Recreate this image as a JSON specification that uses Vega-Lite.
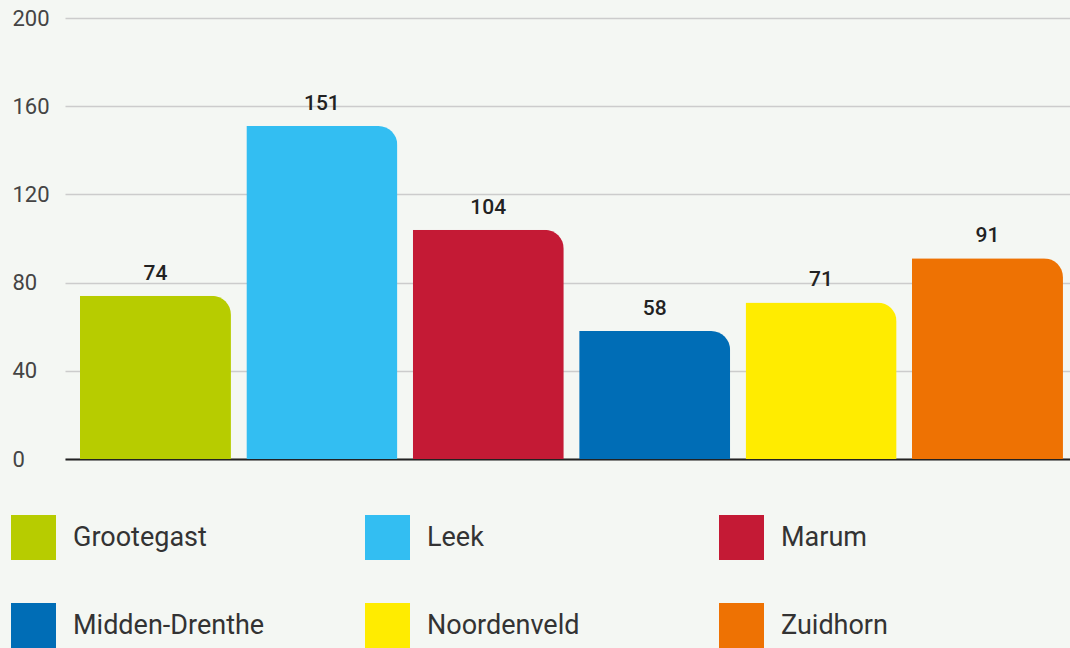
{
  "$schema": "https://vega.github.io/schema/vega-lite/v6.json",
  "width": 1005,
  "height": 441,
  "autosize": {"type": "none"},
  "padding": {"left": 65, "top": 18, "right": 0, "bottom": 189},
  "background": "#f4f7f3",
  "config": {
    "view": {"stroke": null},
    "font": "Roboto"
  },
  "data": {
    "values": [
      {"gemeente": "Grootegast", "waarde": 74},
      {"gemeente": "Leek", "waarde": 151},
      {"gemeente": "Marum", "waarde": 104},
      {"gemeente": "Midden-Drenthe", "waarde": 58},
      {"gemeente": "Noordenveld", "waarde": 71},
      {"gemeente": "Zuidhorn", "waarde": 91}
    ]
  },
  "encoding": {
    "x": {
      "field": "gemeente",
      "type": "nominal",
      "sort": null,
      "scale": {"paddingInner": 0.0925, "paddingOuter": 0.066, "align": 0.68},
      "axis": {
        "title": null,
        "labels": false,
        "ticks": false,
        "tickSize": 0,
        "domain": true,
        "domainColor": "#222222",
        "domainWidth": 2,
        "grid": false
      }
    },
    "y": {
      "field": "waarde",
      "type": "quantitative",
      "scale": {"domain": [0, 200], "nice": false},
      "axis": {
        "title": null,
        "values": [0, 40, 80, 120, 160, 200],
        "ticks": false,
        "tickSize": 0,
        "domain": false,
        "grid": true,
        "gridColor": "#cccccc",
        "gridWidth": 1.5,
        "labelAlign": "left",
        "labelBaseline": "middle",
        "labelPadding": 53,
        "labelFontSize": 22,
        "labelColor": "#444444",
        "labelFont": "Roboto"
      }
    }
  },
  "layer": [
    {
      "mark": {"type": "bar", "cornerRadiusTopRight": 19},
      "encoding": {
        "color": {
          "field": "gemeente",
          "type": "nominal",
          "scale": {
            "domain": ["Grootegast", "Leek", "Marum", "Midden-Drenthe", "Noordenveld", "Zuidhorn"],
            "range": ["#b7cc00", "#33bef2", "#c41a35", "#006db6", "#ffec00", "#ee7203"]
          },
          "legend": {
            "title": null,
            "orient": "none",
            "direction": "horizontal",
            "legendX": -54,
            "legendY": 497,
            "columns": 3,
            "gridAlign": "all",
            "columnPadding": 100,
            "rowPadding": 43,
            "padding": 0,
            "symbolType": "square",
            "symbolSize": 2025,
            "symbolStrokeWidth": 0,
            "symbolOpacity": 1,
            "labelFontSize": 27,
            "labelFont": "Roboto",
            "labelColor": "#333333",
            "labelOffset": 17,
            "labelLimit": 400
          }
        }
      }
    },
    {
      "mark": {
        "type": "text",
        "dy": -16,
        "baseline": "alphabetic",
        "align": "center",
        "fontSize": 21,
        "fontWeight": 500,
        "color": "#222222",
        "font": "Roboto"
      },
      "encoding": {
        "text": {"field": "waarde", "type": "quantitative"}
      }
    }
  ]
}
